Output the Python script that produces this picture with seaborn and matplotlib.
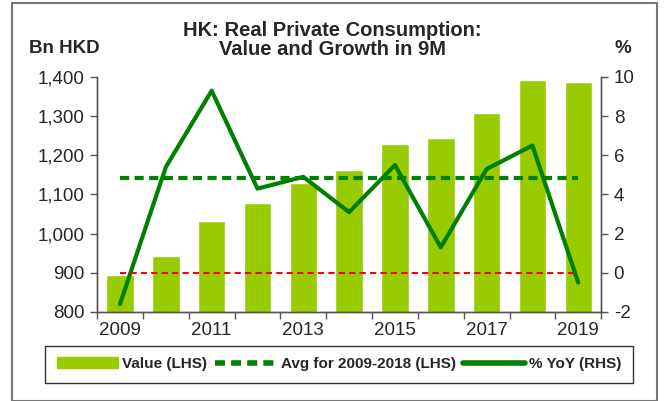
import seaborn as sns
import matplotlib.pyplot as plt
import matplotlib.patches as mpatches
from matplotlib.lines import Line2D
import pandas as pd

years = [2009, 2010, 2011, 2012, 2013, 2014, 2015, 2016, 2017, 2018, 2019]
value_bn = [895, 943, 1033, 1077, 1130, 1163, 1228, 1243, 1308, 1393, 1386]
yoy_pct = [-1.6, 5.4, 9.3, 4.3, 4.9, 3.1, 5.5, 1.3, 5.3, 6.5, -0.5]
avg_2009_2018 = 1142

bar_color = '#99CC00'
line_color = '#008000'

sns.set_theme(style='white')
plt.rcParams['font.family'] = ['Liberation Sans', 'DejaVu Sans']

df = pd.DataFrame({'year': [str(y) for y in years], 'value': value_bn, 'yoy': yoy_pct})
df['pos'] = range(len(df))

fig = plt.figure(figsize=(6.65, 4.01), dpi=100)
ax = fig.add_axes([0.146, 0.222, 0.758, 0.586])

sns.barplot(data=df, x='year', y='value', color=bar_color, width=0.6,
            saturation=1, ax=ax)
ax.axhline(avg_2009_2018, xmin=0.5 / 11, xmax=10.5 / 11, color=line_color,
           lw=3, ls=(0, (2.2, 1.3)))
ax.set_ylim(800, 1400)
ax.set_yticks(range(800, 1401, 100))
ax.set_yticklabels([f'{v:,}' for v in range(800, 1401, 100)], fontsize=13.5)
ax.set_xlim(-0.5, 10.5)
ax.set_xticks(range(0, 11, 2))
ax.set_xticklabels([str(y) for y in years[::2]], fontsize=13.5)
ax.set_xticks([i - 0.5 for i in range(12)], minor=True)
ax.tick_params(axis='x', which='major', length=0, pad=7)
ax.tick_params(axis='x', which='minor', length=5, width=1, color='#555555', bottom=True)
ax.tick_params(axis='y', length=5, width=1, color='#555555', left=True, pad=4)
ax.set_xlabel('')
ax.set_ylabel('')

ax2 = ax.twinx()
sns.lineplot(data=df, x='pos', y='yoy', color=line_color, lw=3, ax=ax2)
ax2.plot([0, 10], [0, 0], color='red', lw=1.5, ls=(0, (3, 2)))
ax2.set_ylim(-2, 10)
ax2.set_yticks(range(-2, 11, 2))
ax2.set_yticklabels([str(v) for v in range(-2, 11, 2)], fontsize=13.5)
ax2.tick_params(axis='y', length=5, width=1, color='#555555', right=True, pad=4)
ax2.set_ylabel('')
ax2.set_xlabel('')
ax2.set_xlim(-0.5, 10.5)

for a in (ax, ax2):
    a.spines['top'].set_visible(False)
    for side in ('left', 'right', 'bottom'):
        a.spines[side].set_color('#555555')
        a.spines[side].set_linewidth(1)

fig.text(0.5, 0.9, 'HK: Real Private Consumption:\nValue and Growth in 9M',
         ha='center', va='center', fontsize=14.5, fontweight='bold', linespacing=1.05)
fig.text(0.097, 0.878, 'Bn HKD', ha='center', va='center', fontsize=13.5, fontweight='bold')
fig.text(0.936, 0.878, '%', ha='center', va='center', fontsize=13.5, fontweight='bold')

handles = [
    mpatches.Patch(color=bar_color, label='Value (LHS)'),
    Line2D([], [], color=line_color, lw=4, ls=(0, (1.8, 1.1)), label='Avg for 2009-2018 (LHS)'),
    Line2D([], [], color=line_color, lw=4, label='% YoY (RHS)'),
]
leg = fig.legend(handles=handles, loc='center', bbox_to_anchor=(0.51, 0.092), ncol=3,
                 frameon=True, fancybox=False, edgecolor='black',
                 handlelength=4.0, handletextpad=0.3, columnspacing=0.5,
                 borderpad=0.75, prop={'weight': 'bold', 'size': 11})
leg.get_frame().set_linewidth(1)

fig.patches.append(mpatches.Rectangle((0.018, 0.0), 0.97, 0.992, transform=fig.transFigure,
                                      fill=False, edgecolor='#777777', lw=1.5))

fig.savefig('out.png', dpi=100)
